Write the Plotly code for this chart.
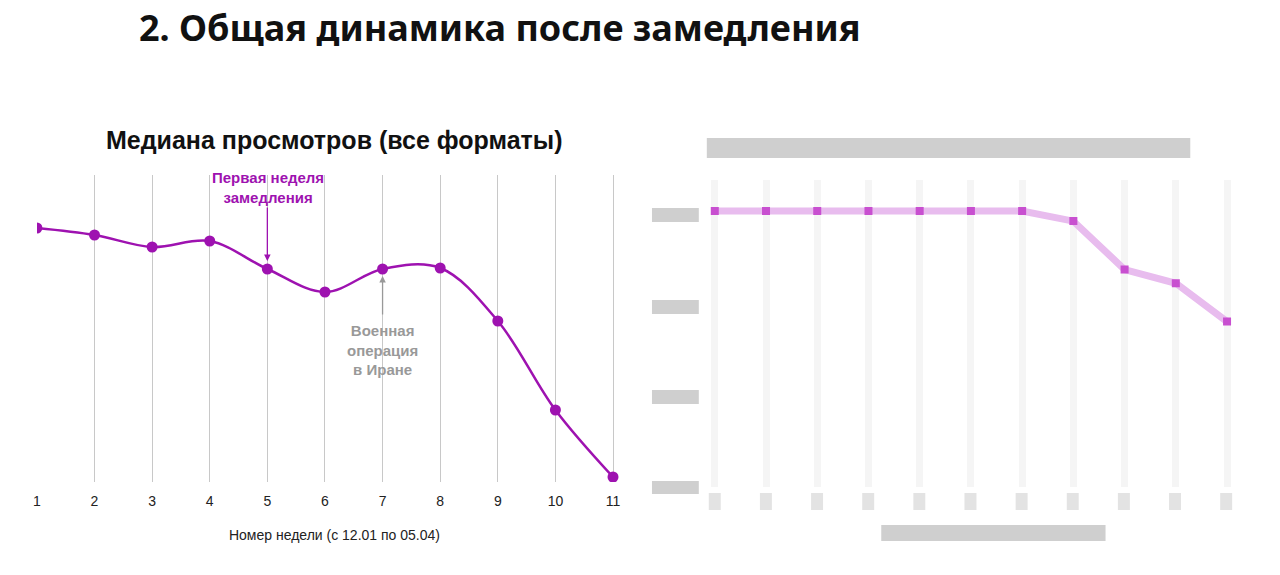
import plotly.graph_objects as go

weeks = list(range(1, 12))
median_views = [272, 265, 253, 259, 231, 208, 231, 232, 179, 90, 23]
week_ticks = [str(w) for w in weeks]
right_values = [3.02, 3.02, 3.02, 3.02, 3.02, 3.02, 3.02, 2.91, 2.38, 2.23, 1.81]

W, H = 1280, 575
def px(x): return x / W
def py(y): return 1 - y / H

PURPLE = "#9E12B0"
fig = go.Figure()

fig.add_trace(go.Scatter(x=weeks, y=median_views, mode="lines+markers",
    line=dict(color=PURPLE, width=2.5, shape="spline", smoothing=1.0),
    marker=dict(color=PURPLE, size=11), xaxis="x", yaxis="y", showlegend=False))

fig.add_trace(go.Scatter(x=weeks, y=right_values, mode="lines+markers",
    line=dict(color="#E8BCEE", width=7), marker=dict(color="#C84FD0", size=8, symbol="square"),
    xaxis="x2", yaxis="y2", showlegend=False))

fig.update_layout(
    width=W, height=H, margin=dict(l=0, r=0, t=0, b=0),
    paper_bgcolor="white", plot_bgcolor="white",
    font=dict(family="Liberation Sans, Arial, sans-serif", color="#222"),
    xaxis=dict(domain=[px(33), px(630)], range=[1, 11.33], tickvals=weeks, ticktext=week_ticks,
               showgrid=True, gridcolor="#c8c8c8", gridwidth=1, zeroline=False, showline=False,
               ticks="outside", ticklen=6, tickcolor="rgba(0,0,0,0)", tickfont=dict(size=14, color="#222"),
               title=dict(text="Номер недели (с 12.01 по 05.04)", font=dict(size=14, color="#222"), standoff=22)),
    yaxis=dict(domain=[py(482), py(175)], range=[18, 325], showgrid=False, zeroline=False,
               showticklabels=False, showline=False),
    xaxis2=dict(domain=[px(705), px(1250)], range=[0.844, 11.45], tickvals=weeks, showticklabels=False,
                showgrid=True, gridcolor="#f5f5f5", gridwidth=7, zeroline=False, showline=False, anchor="y2"),
    yaxis2=dict(domain=[py(487), py(180)], range=[0, 3.36], showgrid=False, zeroline=False,
                showticklabels=False, anchor="x2"),
)

anns = [
    dict(text="<b>2. Общая динамика после замедления</b>", x=px(133), y=py(28), xanchor="left", yanchor="middle",
         font=dict(size=36, color="#111", family="Noto Sans, sans-serif")),
    dict(text="<b>Медиана просмотров (все форматы)</b>", x=px(332), y=py(140), xanchor="center", yanchor="middle",
         font=dict(size=25, color="#111")),
    dict(text="<b>Первая неделя<br>замедления</b>", x=px(265), y=py(188), xanchor="center", yanchor="middle",
         font=dict(size=15, color=PURPLE)),
    dict(text="<b>Военная<br>операция<br>в Иране</b>", x=px(380), y=py(350), xanchor="center", yanchor="middle",
         font=dict(size=15, color="#999")),
]
for a in anns:
    a.update(xref="paper", yref="paper", showarrow=False)
fig.update_layout(annotations=anns)

fig.add_annotation(x=5, y=median_views[4] + 8, xref="x", yref="y", ax=0, ay=-55, showarrow=True,
                   arrowhead=2, arrowsize=1, arrowwidth=1.3, arrowcolor=PURPLE, text="")
fig.add_annotation(x=7, y=median_views[6] - 7, xref="x", yref="y", ax=0, ay=40, showarrow=True,
                   arrowhead=2, arrowsize=1, arrowwidth=1.3, arrowcolor="#999", text="")

blocks = [(705, 138, 1190, 158), (650, 208, 697, 222), (650, 300, 697, 314), (650, 390, 697, 404),
          (650, 481, 697, 494), (880, 525, 1105, 541)]
for x0, y0, x1, y1 in blocks:
    fig.add_shape(type="rect", xref="paper", yref="paper", x0=px(x0), x1=px(x1), y0=py(y1), y1=py(y0),
                  fillcolor="#a8a8a8", opacity=0.55, line=dict(width=0))
for i in range(11):
    xc = 713 + i * 51.3
    fig.add_shape(type="rect", xref="paper", yref="paper", x0=px(xc - 6), x1=px(xc + 6), y0=py(510), y1=py(493),
                  fillcolor="#d0d0d0", opacity=0.6, line=dict(width=0))

fig.write_html("out.html", post_script="document.body.style.margin='0';",
               config={"displayModeBar": False})
